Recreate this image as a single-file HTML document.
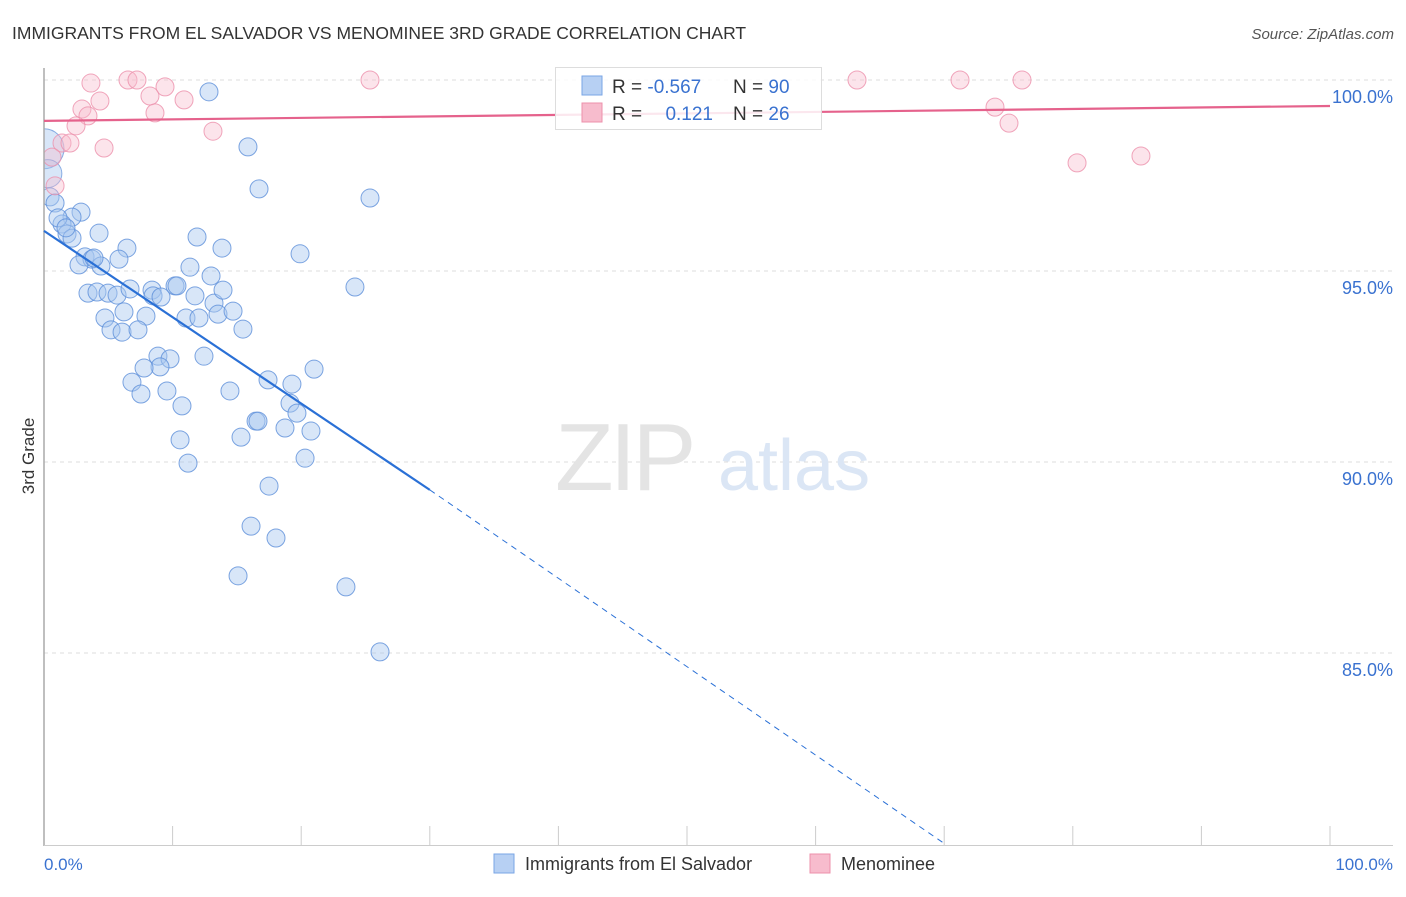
<!DOCTYPE html>
<html><head><meta charset="utf-8"><style>
body{margin:0;background:#fff;font-family:"Liberation Sans",sans-serif;}
svg text{font-family:"Liberation Sans",sans-serif;}
</style></head><body>
<svg id="chart" width="1406" height="892" viewBox="0 0 1406 892" xmlns="http://www.w3.org/2000/svg">
<defs><clipPath id="plotclip"><rect x="44" y="60" width="1360" height="786"/></clipPath></defs>
<text x="12" y="39" font-size="17.5" fill="#333">IMMIGRANTS FROM EL SALVADOR VS MENOMINEE 3RD GRADE CORRELATION CHART</text>
<text x="1394" y="39" font-size="15" fill="#555" text-anchor="end" font-style="italic">Source: ZipAtlas.com</text>
<g id="grid"></g>
<text x="555" y="490" font-size="96" fill="#e4e4e4" font-family="Liberation Serif" letter-spacing="-4">ZIP</text>
<text x="718" y="490" font-size="72" fill="#dbe6f5">atlas</text>
<g id="xticks"></g>
<g id="ylabels"></g>
<g clip-path="url(#plotclip)">
<g id="blue"></g>
<g id="pink"></g>
</g>
<line x1="44" y1="68" x2="44" y2="846" stroke="#aaa" stroke-width="1.5"/>
<line x1="44" y1="845.5" x2="1393" y2="845.5" stroke="#ccc" stroke-width="1"/>
<g id="trends"></g>
<text transform="translate(34,456) rotate(-90)" font-size="17" fill="#333" text-anchor="middle">3rd Grade</text>
<text x="44" y="870" font-size="17" fill="#3a72d0">0.0%</text>
<text x="1393" y="870" font-size="17" fill="#3a72d0" text-anchor="end">100.0%</text>
<g>
<rect x="555.5" y="67.5" width="266" height="62" fill="#fff" fill-opacity="0.85" stroke="#ddd"/>
<rect x="582" y="76" width="20" height="19" fill="#b7d0f3" stroke="#7aa6e6"/>
<text x="612" y="93" font-size="19" fill="#333">R = <tspan fill="#3a72d0">-0.567</tspan></text>
<text x="733" y="93" font-size="19" fill="#333">N = <tspan fill="#3a72d0">90</tspan></text>
<rect x="582" y="103" width="20" height="19" fill="#f7bccd" stroke="#ec90ab"/>
<text x="612" y="120" font-size="19" fill="#333">R = </text>
<text x="713" y="120" font-size="19" fill="#3a72d0" text-anchor="end">0.121</text>
<text x="733" y="120" font-size="19" fill="#333">N = <tspan fill="#3a72d0">26</tspan></text>
</g>
<g>
<rect x="494" y="854" width="20" height="19" fill="#b7d0f3" stroke="#7aa6e6"/>
<text x="525" y="870" font-size="18" fill="#333">Immigrants from El Salvador</text>
<rect x="810" y="854" width="20" height="19" fill="#f7bccd" stroke="#ec90ab"/>
<text x="841" y="870" font-size="18" fill="#333">Menominee</text>
</g>
</svg>
<script>
const yTicks=[100,95,90,85];
const yTickLabels=["100.0%","95.0%","90.0%","85.0%"];
const xTicks=[0,10,20,30,40,50,60,70,80,90,100];
const bluePx=[[209,92],[248,147],[259,189],[370,198],[300,254],[355,287],[81,212],[72,217],[62,224],[67,234],[72,238],[99,233],[127,248],[197,237],[222,248],[85,257],[92,259],[79,265],[101,266],[119,259],[190,267],[211,276],[88,293],[97,292],[108,293],[117,295],[130,289],[152,290],[153,296],[161,297],[175,286],[177,286],[195,296],[214,303],[223,290],[218,314],[105,318],[124,312],[146,316],[186,318],[199,318],[233,311],[111,330],[122,332],[138,330],[243,329],[158,356],[170,359],[160,367],[144,368],[204,356],[132,382],[141,394],[167,391],[230,391],[268,380],[292,384],[314,369],[182,406],[290,403],[297,413],[256,421],[258,421],[285,428],[311,431],[241,437],[180,440],[188,463],[305,458],[269,486],[251,526],[276,538],[238,576],[346,587],[380,652],[50,197],[55,203],[58,218],[66,228],[94,258]];
const pinkPx=[[91,83],[128,80],[137,80],[165,87],[150,96],[100,101],[82,109],[88,116],[155,113],[184,100],[76,126],[213,131],[62,143],[70,143],[104,148],[52,157],[55,186],[370,80],[857,80],[960,80],[1022,80],[995,107],[1009,123],[1077,163],[1141,156]];
const blueX=bluePx.map(p=>+((p[0]-44)/12.86).toFixed(2));
const blueY=bluePx.map(p=>+(100-(p[1]-80)/38.2).toFixed(2));
const pinkX=pinkPx.map(p=>+((p[0]-44)/12.86).toFixed(2));
const pinkY=pinkPx.map(p=>+(100-(p[1]-80)/38.2).toFixed(2));
const bigBlueX=[0,0.3];
const bigBlueY=[98.2,97.55];
const bigBlueR=[20,14];
const blueTrend=[[0,96.05],[30,89.27],[70.06,80]];
const pinkTrend=[[0,98.93],[100,99.32]];
const X=v=>44+v*12.86, Y=v=>80+(100-v)*38.2;
const NS="http://www.w3.org/2000/svg";
function mk(t,a,p){const e=document.createElementNS(NS,t);for(const k in a)e.setAttribute(k,a[k]);p.appendChild(e);return e;}
const grid=document.getElementById('grid'),yl=document.getElementById('ylabels'),xt=document.getElementById('xticks');
yTicks.forEach((v,i)=>{
 const l=mk('line',{x1:44,x2:1393,y1:Y(v),y2:Y(v),stroke:'#ddd','stroke-dasharray':'4,4'},grid);
 
 
 const t=mk('text',{x:1393,y:Y(v)+23,'font-size':18,fill:'#3a72d0','text-anchor':'end'},yl);
 t.textContent=yTickLabels[i];
 
 
});
xTicks.forEach(v=>{
 const l=mk('line',{x1:X(v),x2:X(v),y1:826,y2:845,stroke:'#ccc'},xt);
 
 
});
const bg=document.getElementById('blue'),pg=document.getElementById('pink');
bigBlueX.forEach((v,i)=>{
 const c=mk('circle',{cx:X(v),cy:Y(bigBlueY[i]),r:bigBlueR[i],fill:'#a9c7ef','fill-opacity':0.45,stroke:'#5d8fd9','stroke-opacity':0.7},bg);
 
 
});
blueX.forEach((v,i)=>{
 const c=mk('circle',{cx:X(v),cy:Y(blueY[i]),r:9,fill:'#a9c7ef','fill-opacity':0.45,stroke:'#5d8fd9','stroke-opacity':0.8},bg);
 
 
});
pinkX.forEach((v,i)=>{
 const c=mk('circle',{cx:X(v),cy:Y(pinkY[i]),r:9,fill:'#f7bccd','fill-opacity':0.4,stroke:'#ec90ab','stroke-opacity':0.8},pg);
 
 
});
const tg=document.getElementById('trends');
const b1=mk('line',{x1:X(blueTrend[0][0]),y1:Y(blueTrend[0][1]),x2:X(blueTrend[1][0]),y2:Y(blueTrend[1][1]),stroke:'#2a70d6','stroke-width':2.2},tg);


const b2=mk('line',{x1:X(blueTrend[1][0]),y1:Y(blueTrend[1][1]),x2:X(blueTrend[2][0]),y2:Y(blueTrend[2][1]),stroke:'#2a70d6','stroke-width':1,'stroke-dasharray':'6,5'},tg);


const p1=mk('line',{x1:X(pinkTrend[0][0]),y1:Y(pinkTrend[0][1]),x2:X(pinkTrend[1][0]),y2:Y(pinkTrend[1][1]),stroke:'#e5628c','stroke-width':2.2},tg);


</script>
</body></html>
